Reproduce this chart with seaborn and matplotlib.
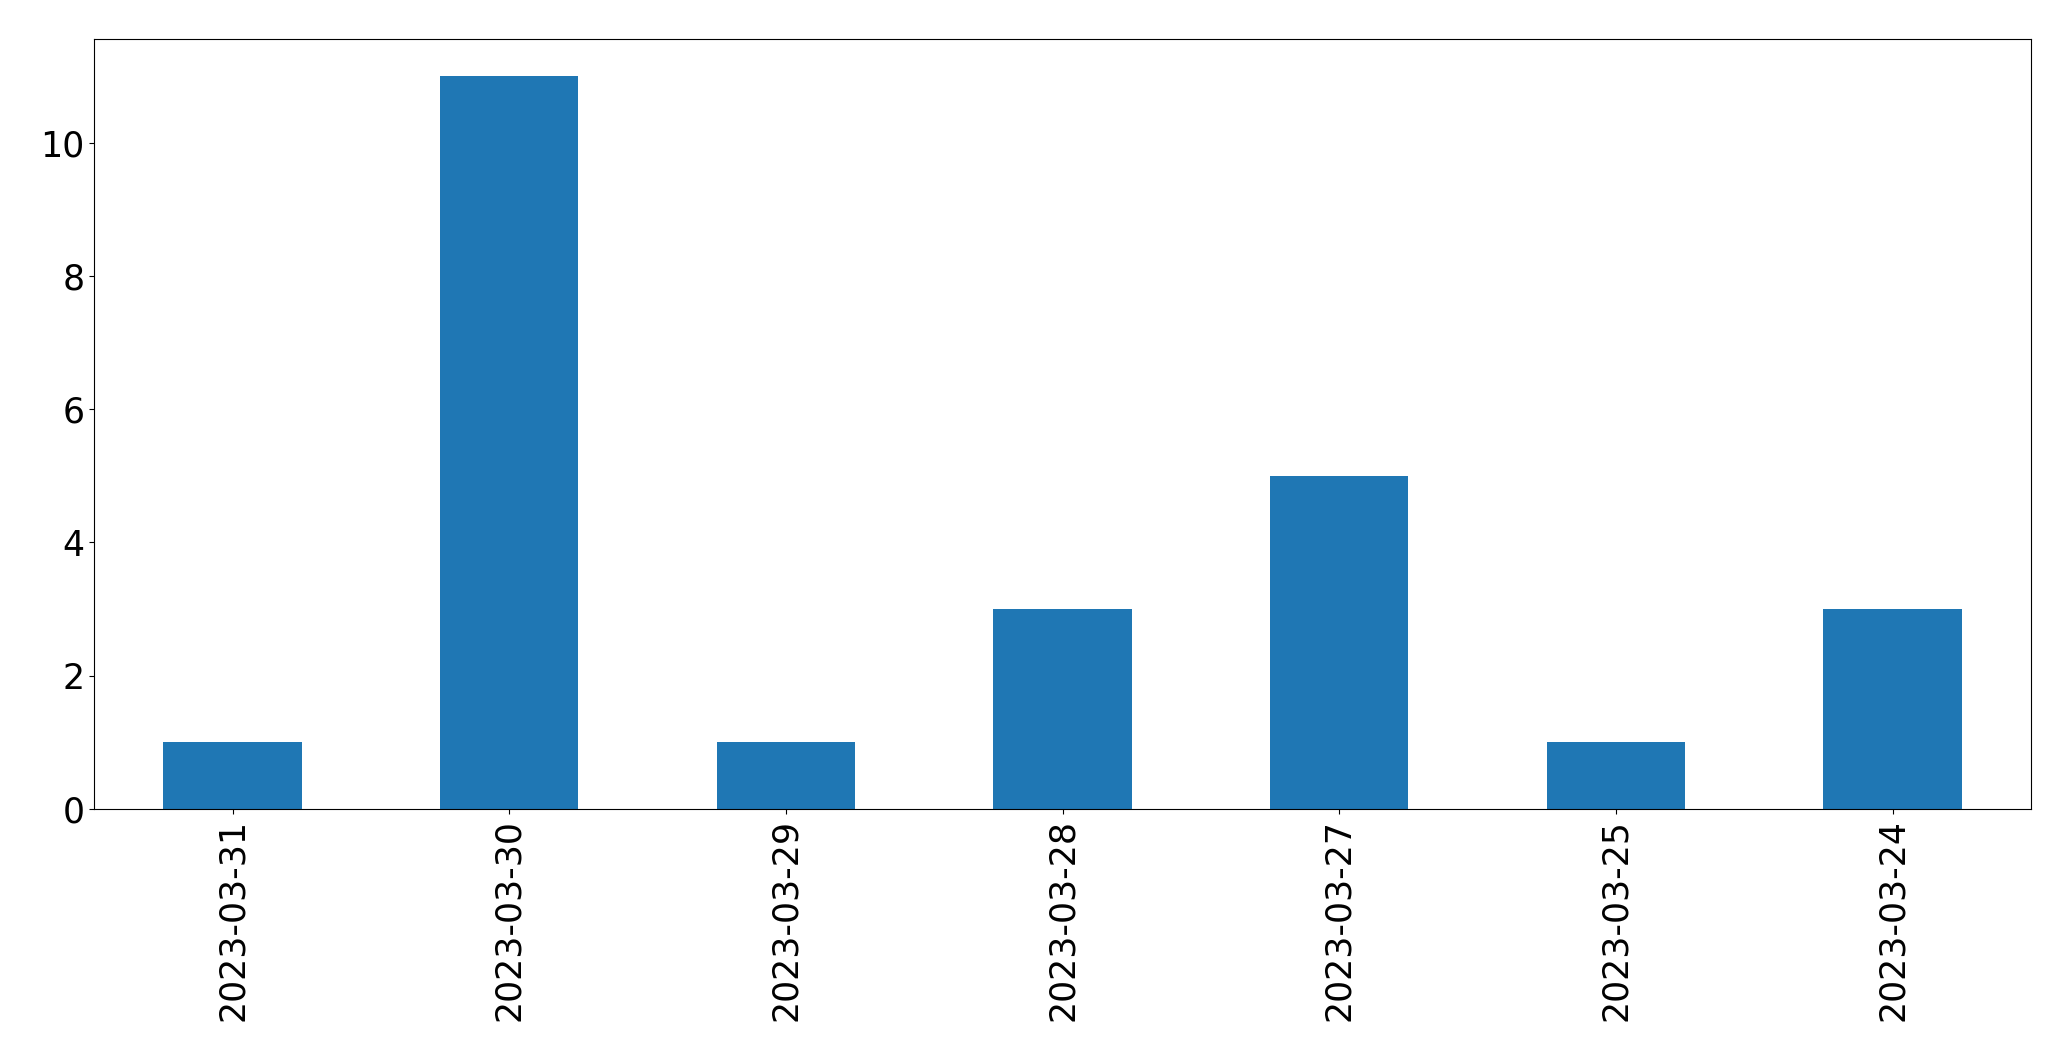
import pandas as pd
import matplotlib
matplotlib.use("Agg")
import matplotlib.pyplot as plt
import seaborn as sns

# Data
dates = ["2023-03-31", "2023-03-30", "2023-03-29", "2023-03-28",
         "2023-03-27", "2023-03-25", "2023-03-24"]
counts = [1, 11, 1, 3, 5, 1, 3]

df = pd.DataFrame({"date": dates, "count": counts})

fig = plt.figure(figsize=(20.71, 10.61), dpi=100)
W, H = 2071, 1061
ax = fig.add_axes([94.3 / W, 1 - 809 / H, (2031 - 94.3) / W, (809 - 39.3) / H])

sns.barplot(data=df, x="date", y="count", order=dates, width=0.5,
            color="#1f77b4", saturation=1, linewidth=0, ax=ax)

ax.set_xlim(-0.5, len(dates) - 0.5)
ax.set_ylim(0, max(counts) * 1.05)
ax.set_xlabel("")
ax.set_ylabel("")
ax.tick_params(axis="both", labelsize=25)
ax.tick_params(axis="x", labelrotation=90)

fig.savefig("out.png", dpi=100)
